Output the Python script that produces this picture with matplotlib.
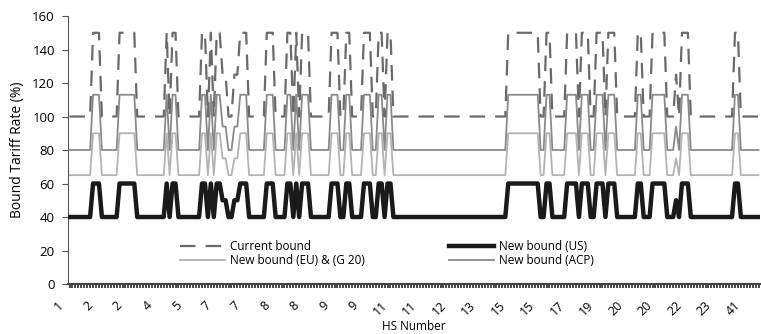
import numpy as np
import matplotlib
matplotlib.use('Agg')
import matplotlib.pyplot as plt
import matplotlib.transforms as mtransforms

plt.rcParams['font.family'] = ['Open Sans', 'DejaVu Sans']

# HS tariff lines, label shown every 10th line
n_lines = 235
hs_labels = ['1', '2', '2', '4', '5', '7', '7', '8', '8', '9', '9', '11', '11',
             '12', '13', '15', '15', '17', '19', '20', '20', '22', '23', '41']

# first tariff line of each run of equal rates
seg_start = [0, 8, 11, 17, 23, 33, 34, 35, 37, 45, 47, 48, 49, 50, 52, 54, 56, 58, 61,
             67, 70, 74, 76, 77, 78, 79, 82, 89, 92, 94, 96, 100, 103, 105, 107, 108, 110,
             149, 160, 162, 164, 169, 173, 174, 177, 179, 182, 183, 186, 193, 195, 198, 203,
             206, 207, 208, 211, 226, 228]
current = [100, 150, 100, 150, 100, 150, 100, 150, 100, 150, 100, 150, 100, 150, 125, 100,
           125, 150, 100, 150, 100, 150, 100, 150, 100, 150, 100, 150, 100, 150, 100, 150,
           100, 150, 100, 150, 100, 150, 100, 150, 100, 150, 100, 150, 100, 150, 100, 150,
           100, 150, 100, 150, 100, 125, 100, 150, 100, 150, 100]
us = [40, 60, 40, 60, 40, 60, 40, 60, 40, 60, 40, 60, 40, 60, 50, 40, 50, 60, 40, 60, 40,
      60, 40, 60, 40, 60, 40, 60, 40, 60, 40, 60, 40, 60, 40, 60, 40, 60, 40, 60, 40, 60,
      40, 60, 40, 60, 40, 60, 40, 60, 40, 60, 40, 50, 40, 60, 40, 60, 40]
eu_g20 = [65, 90, 65, 90, 65, 90, 65, 90, 65, 90, 65, 90, 65, 90, 75, 65, 75, 90, 65, 90,
          65, 90, 65, 90, 65, 90, 65, 90, 65, 90, 65, 90, 65, 90, 65, 90, 65, 90, 65, 90,
          65, 90, 65, 90, 65, 90, 65, 90, 65, 90, 65, 90, 65, 75, 65, 90, 65, 90, 65]
acp = [80, 113, 80, 113, 80, 113, 80, 113, 80, 113, 80, 113, 80, 113, 94, 80, 94, 113,
       80, 113, 80, 113, 80, 113, 80, 113, 80, 113, 80, 113, 80, 113, 80, 113, 80, 113,
       80, 113, 80, 113, 80, 113, 80, 113, 80, 113, 80, 113, 80, 113, 80, 113, 80, 94,
       80, 113, 80, 113, 80]


def expand(vals):
    counts = np.diff(seg_start + [n_lines])
    return np.repeat(vals, counts)


x = np.arange(n_lines)

fig = plt.figure(figsize=(7.61, 3.34), dpi=100)
ax = fig.add_axes([0.0894, 0.1497, 0.9093, 0.8023])

l_cur, = ax.plot(x, expand(current), color='#6a6a6a', lw=1.6, dashes=(7, 4.5),
                 label='Current bound', zorder=4)
l_eu, = ax.plot(x, expand(eu_g20), color='#b3b3b3', lw=1.3,
                label='New bound (EU) & (G 20)', zorder=2)
l_acp, = ax.plot(x, expand(acp), color='#8a8a8a', lw=1.3,
                 label='New bound (ACP)', zorder=3)
l_us, = ax.plot(x, expand(us), color='#1a1a1a', lw=3.2,
                label='New bound (US)', zorder=5)

ax.set_xlim(-0.5, n_lines - 0.5)
ax.set_ylim(0, 160)
ax.set_yticks(np.arange(0, 161, 20))
ax.set_xticks(np.arange(0, n_lines, 10))
ax.set_xticklabels(hs_labels, rotation=45, ha='right', va='center',
                   rotation_mode='anchor')
ax.set_xticks(x, minor=True)
ax.tick_params(axis='x', which='both', length=3, width=1.4, color='#484848',
               labelsize=9, pad=11)
ax.tick_params(axis='y', length=4, width=0.8, color='#555555', labelsize=9.5, pad=5.5)

# nudge the rotated labels a little to the left
shift = mtransforms.ScaledTranslation(-0.08, 0, fig.dpi_scale_trans)
for lab in ax.get_xticklabels():
    lab.set_transform(lab.get_transform() + shift)

for s in ['top', 'right']:
    ax.spines[s].set_visible(False)
ax.spines['left'].set_color('#555555')
ax.spines['bottom'].set_color('#444444')
ax.spines['bottom'].set_linewidth(1.5)

ax.set_ylabel('Bound Tariff Rate (%)', fontsize=10, labelpad=5)
ax.set_xlabel('HS Number', fontsize=8.5, labelpad=1)

fig.legend([l_cur, l_eu, l_us, l_acp],
           ['Current bound', 'New bound (EU) & (G 20)', 'New bound (US)', 'New bound (ACP)'],
           loc='upper left', bbox_to_anchor=(180 / 761, 1 - 240 / 334), ncol=2,
           frameon=False, fontsize=8.5, handlelength=3.8, handletextpad=0.4,
           columnspacing=7.2, labelspacing=0.1, borderpad=0, borderaxespad=0)

fig.savefig('out.png', dpi=100)
